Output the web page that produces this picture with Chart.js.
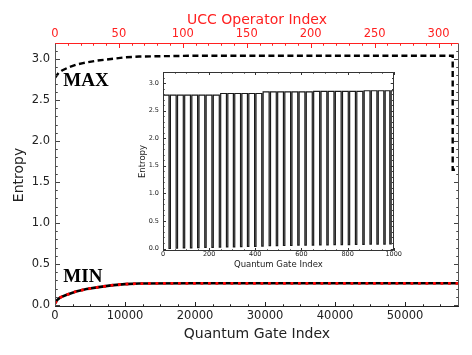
<!DOCTYPE html>
<html>
<head>
<meta charset="utf-8">
<script src="https://cdn.jsdelivr.net/npm/chart.js@4.4.0/dist/chart.umd.min.js"></script>
<style>
  body { margin: 0; background: #fff; }
  #wrap { position: relative; width: 472px; height: 355px; }
  #mainChart { position: absolute; left: 0; top: 0; }
  #insetChart { position: absolute; left: 128px; top: 64px; }
</style>
</head>
<body>
<div id="wrap">
  <canvas id="mainChart" width="472" height="355"></canvas>
  <canvas id="insetChart" width="274" height="216"></canvas>
</div>
<script>
// ===== Data =====
const gateMax = 57700;
const uccMax = 316;

const maxGate = [0, 500, 1000, 2000, 3000, 4000, 6000, 8000, 10000, 12000, 20000, 30000, 40000, 50000, 56800, 56800, 57700];
const maxEntropy = [2.77, 2.83, 2.86, 2.9, 2.93, 2.95, 2.98, 3.0, 3.02, 3.03, 3.04, 3.04, 3.04, 3.04, 3.04, 1.65, 1.65];

const minGate = [0, 300, 700, 1500, 3000, 4500, 6000, 8000, 10000, 12000, 20000, 57700];
const minEntropy = [0.02, 0.06, 0.09, 0.12, 0.165, 0.195, 0.215, 0.24, 0.255, 0.262, 0.265, 0.265];

const mainXTicks = [0, 10000, 20000, 30000, 40000, 50000];
const mainYTicks = [0, 0.5, 1, 1.5, 2, 2.5, 3];
const uccTicks = [0, 50, 100, 150, 200, 250, 300];

// inset: entropy along the first 1000 gates
const insetDipGate = [26, 57, 88, 119, 150, 181, 212, 244, 275, 305, 336, 366, 397, 428, 460, 491, 522, 553, 584, 615, 647, 679, 710, 741, 772, 803, 834, 866, 897, 927, 957, 983];
const insetDipLow = [0.0, 0.005, 0.01, 0.01, 0.015, 0.02, 0.02, 0.025, 0.03, 0.03, 0.035, 0.04, 0.04, 0.045, 0.05, 0.05, 0.055, 0.055, 0.06, 0.06, 0.06, 0.065, 0.065, 0.07, 0.07, 0.07, 0.075, 0.075, 0.08, 0.08, 0.08, 0.085];
const insetPlateau = [2.78, 2.78, 2.78, 2.78, 2.78, 2.78, 2.78, 2.78, 2.81, 2.81, 2.81, 2.81, 2.81, 2.81, 2.84, 2.84, 2.84, 2.84, 2.84, 2.84, 2.84, 2.85, 2.85, 2.85, 2.85, 2.85, 2.85, 2.85, 2.86, 2.86, 2.86, 2.86, 2.86];
const insetDipLen = 6;
const insetXTicks = [0, 200, 400, 600, 800, 1000];
const insetYTicks = [0, 0.5, 1, 1.5, 2, 2.5, 3];

// ===== Build points =====
const maxPts = maxGate.map((g, i) => ({ x: g, y: maxEntropy[i] }));
const minPts = minGate.map((g, i) => ({ x: g, y: minEntropy[i] }));

const insetPts = [{ x: 0, y: insetPlateau[0] }];
insetDipGate.forEach((g, i) => {
  insetPts.push({ x: g, y: insetPlateau[i] });
  insetPts.push({ x: g, y: insetDipLow[i] });
  insetPts.push({ x: g + insetDipLen, y: insetDipLow[i] });
  insetPts.push({ x: g + insetDipLen, y: insetPlateau[i + 1] });
});
insetPts.push({ x: 1000, y: insetPlateau[insetPlateau.length - 1] });

const FONT = "DejaVu Sans";

// ===== inward ticks, spines and text labels =====
const frame = {
  id: "frame",
  afterDraw(chart, args, opts) {
    const ctx = chart.ctx;
    const a = chart.chartArea;
    ctx.save();
    ctx.lineWidth = 1;
    (opts.sides || []).forEach((s) => {
      const sc = chart.scales[s.scale];
      ctx.strokeStyle = s.color;
      const k0 = Math.ceil(sc.min / s.minor - 1e-9);
      for (let k = k0; k * s.minor <= sc.max + 1e-9; k++) {
        const v = k * s.minor;
        const r = v / s.major;
        const isMajor = Math.abs(r - Math.round(r)) < 1e-6;
        const len = isMajor ? s.len : s.len * 0.55;
        const p = Math.round(sc.getPixelForValue(v)) + 0.5;
        ctx.beginPath();
        if (s.edge === "left") { ctx.moveTo(a.left, p); ctx.lineTo(a.left + len, p); }
        if (s.edge === "right") { ctx.moveTo(a.right, p); ctx.lineTo(a.right - len, p); }
        if (s.edge === "bottom") { ctx.moveTo(p, a.bottom); ctx.lineTo(p, a.bottom - len); }
        if (s.edge === "top") { ctx.moveTo(p, a.top); ctx.lineTo(p, a.top + len); }
        ctx.stroke();
      }
    });
    const sp = opts.spines;
    if (sp) {
      const L = Math.round(a.left) + 0.5, R = Math.round(a.right) - 0.5;
      const T = Math.round(a.top) + 0.5, B = Math.round(a.bottom) - 0.5;
      const seg = (c, x1, y1, x2, y2) => {
        ctx.strokeStyle = c; ctx.beginPath(); ctx.moveTo(x1, y1); ctx.lineTo(x2, y2); ctx.stroke();
      };
      seg(sp.left, L, T, L, B);
      seg(sp.right, R, T, R, B);
      seg(sp.bottom, L, B, R, B);
      seg(sp.top, L, T, R, T);
    }
    (opts.labels || []).forEach((t) => {
      ctx.font = t.font;
      ctx.fillStyle = "#000";
      ctx.textBaseline = "alphabetic";
      ctx.textAlign = "left";
      ctx.fillText(t.text, chart.scales.x.getPixelForValue(t.x), chart.scales.y.getPixelForValue(t.y));
    });
    ctx.restore();
  },
};

function fixTicks(arr) {
  return (s) => { s.ticks = arr.map((v) => ({ value: v })); };
}

// ===== Main chart =====
new Chart(document.getElementById("mainChart"), {
  type: "line",
  data: {
    datasets: [
      { data: minPts, order: 0, borderColor: "#ff0000", borderWidth: 2.8, borderDash: [2.8, 4.7], pointRadius: 0, tension: 0 },
      { data: minPts, order: 1, borderColor: "#000", borderWidth: 2.6, pointRadius: 0, tension: 0 },
      { data: maxPts, order: 2, borderColor: "#000", borderWidth: 2.4, borderDash: [6, 3.5], pointRadius: 0, tension: 0 },
    ],
  },
  options: {
    responsive: false,
    animation: false,
    layout: { padding: { right: 13 } },
    plugins: {
      legend: { display: false },
      tooltip: { enabled: false },
      frame: {
        sides: [
          { scale: "y", edge: "left", major: 0.5, minor: 0.1, len: 5, color: "#444" },
          { scale: "y", edge: "right", major: 0.5, minor: 0.1, len: 5, color: "#444" },
          { scale: "x", edge: "bottom", major: 10000, minor: 2500, len: 5, color: "#222" },
          { scale: "xTop", edge: "top", major: 50, minor: 10, len: 5, color: "#ff2020" },
        ],
        spines: { left: "#555", right: "#555", bottom: "#222", top: "#ff2020" },
        labels: [
          { text: "MAX", x: 1190, y: 2.67, font: "bold 19px 'Liberation Serif'" },
          { text: "MIN", x: 1190, y: 0.28, font: "bold 19px 'Liberation Serif'" },
        ],
      },
    },
    scales: {
      x: {
        type: "linear", position: "bottom", min: 0, max: gateMax,
        afterBuildTicks: fixTicks(mainXTicks),
        afterFit: (s) => { s.height = 48; },
        grid: { display: false, drawTicks: false },
        border: { display: false },
        ticks: { font: { family: FONT, size: 11.5 }, color: "#222", padding: 2, maxRotation: 0, autoSkip: false, callback: (v) => String(v) },
        title: { display: true, text: "Quantum Gate Index", color: "#222", font: { family: FONT, size: 14 }, padding: { top: 0, bottom: 12 } },
      },
      xTop: {
        type: "linear", position: "top", min: 0, max: uccMax,
        afterBuildTicks: fixTicks(uccTicks),
        afterFit: (s) => { s.height = 43; },
        grid: { display: false, drawTicks: false },
        border: { display: false },
        ticks: { font: { family: FONT, size: 11.5 }, color: "#ff2020", padding: 2, maxRotation: 0, autoSkip: false, callback: (v) => String(v) },
        title: { display: true, text: "UCC Operator Index", color: "#ff2020", font: { family: FONT, size: 14 }, padding: { top: 12, bottom: 0 } },
      },
      y: {
        type: "linear", position: "left", min: -0.024, max: 3.195,
        afterBuildTicks: fixTicks(mainYTicks),
        afterFit: (s) => { s.width = 55; },
        grid: { display: false, drawTicks: false },
        border: { display: false },
        ticks: { font: { family: FONT, size: 11.5 }, color: "#222", padding: 5, callback: (v) => v.toFixed(1) },
        title: { display: true, text: "Entropy", color: "#222", font: { family: FONT, size: 14 }, padding: { top: 11, bottom: 0 } },
      },
    },
  },
  plugins: [frame],
});

// ===== Inset chart =====
new Chart(document.getElementById("insetChart"), {
  type: "line",
  data: {
    datasets: [
      { data: insetPts, borderColor: "#1a1a1a", borderWidth: 1.2, pointRadius: 0, tension: 0 },
    ],
  },
  options: {
    responsive: false,
    animation: false,
    layout: { padding: { top: 8, right: 5 } },
    plugins: {
      legend: { display: false },
      tooltip: { enabled: false },
      frame: {
        sides: [
          { scale: "y", edge: "left", major: 0.5, minor: 0.1, len: 3, color: "#333" },
          { scale: "y", edge: "right", major: 0.5, minor: 0.1, len: 3, color: "#333" },
          { scale: "x", edge: "bottom", major: 200, minor: 50, len: 3, color: "#333" },
          { scale: "x", edge: "top", major: 200, minor: 50, len: 3, color: "#333" },
        ],
        spines: { left: "#333", right: "#333", bottom: "#333", top: "#333" },
      },
    },
    scales: {
      x: {
        type: "linear", position: "bottom", min: 0, max: 1000,
        afterBuildTicks: fixTicks(insetXTicks),
        afterFit: (s) => { s.height = 29; },
        grid: { display: false, drawTicks: false },
        border: { display: false },
        ticks: { font: { family: FONT, size: 6.5, lineHeight: 1 }, color: "#222", padding: 0, maxRotation: 0, autoSkip: false, callback: (v) => String(v) },
        title: { display: true, text: "Quantum Gate Index", color: "#222", font: { family: FONT, size: 8.5 }, padding: { top: 0, bottom: 10 } },
      },
      y: {
        type: "linear", position: "left", min: -0.045, max: 3.2,
        afterBuildTicks: fixTicks(insetYTicks),
        afterFit: (s) => { s.width = 35; },
        grid: { display: false, drawTicks: false },
        border: { display: false },
        ticks: { font: { family: FONT, size: 6.5 }, color: "#222", padding: 4, callback: (v) => v.toFixed(1) },
        title: { display: true, text: "Entropy", color: "#222", font: { family: FONT, size: 8.5 }, padding: { top: 10, bottom: 0 } },
      },
    },
  },
  plugins: [frame],
});
</script>
</body>
</html>
